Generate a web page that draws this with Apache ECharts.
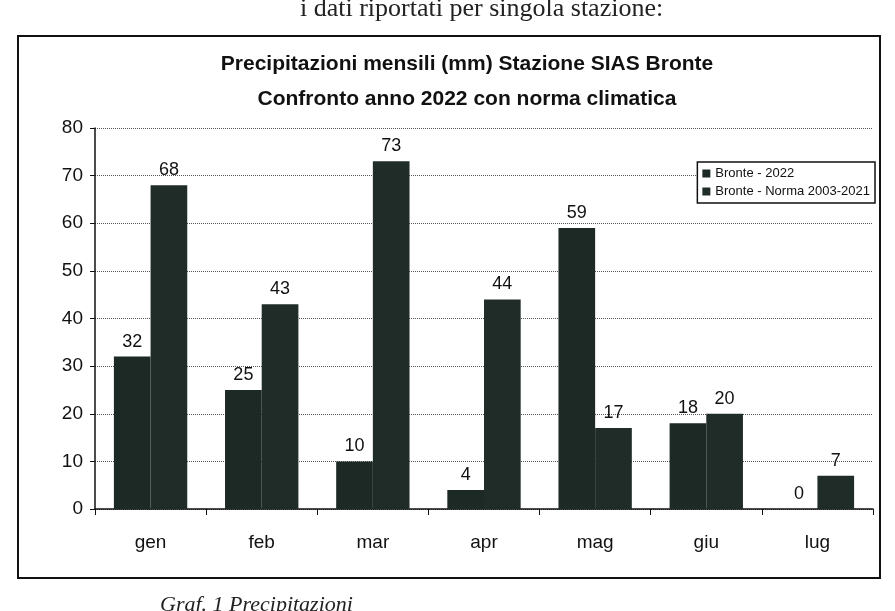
<!DOCTYPE html>
<html>
<head>
<meta charset="utf-8">
<script src="https://cdn.jsdelivr.net/npm/echarts@6/dist/echarts.min.js"></script>
<style>
  html, body { margin: 0; padding: 0; background: #fff; }
  #main { width: 895px; height: 611px; }
</style>
</head>
<body>
<div id="main"></div>
<script>
var months = ["gen", "feb", "mar", "apr", "mag", "giu", "lug"];
var bronte2022 = [32, 25, 10, 4, 59, 18, 0];
var normaValues = [68, 43, 73, 44, 17, 20, 7];
var yTicks = [0, 10, 20, 30, 40, 50, 60, 70, 80];

var myChart = echarts.init(document.getElementById("main"));

myChart.setOption({
  backgroundColor: "#fff",
  animation: false,
  title: {
    text: "Precipitazioni mensili (mm) Stazione SIAS Bronte\nConfronto anno 2022 con norma climatica",
    left: 462,
    top: 42,
    textAlign: "center",
    textStyle: {
      fontFamily: "Liberation Sans",
      fontSize: 21,
      fontWeight: "bold",
      color: "#111",
      lineHeight: 35
    }
  },
  legend: {
    orient: "vertical",
    right: 20,
    top: 162,
    itemWidth: 8,
    itemHeight: 8,
    itemGap: 5,
    padding: [5, 5, 5, 5],
    backgroundColor: "#fff",
    borderColor: "#111",
    borderWidth: 1.5,
    icon: "rect",
    textStyle: { fontFamily: "Liberation Sans", fontSize: 13, color: "#111" },
    data: ["Bronte - 2022", "Bronte - Norma 2003-2021"]
  },
  grid: { left: 95, right: 22, top: 128, bottom: 102 },
  xAxis: {
    type: "category",
    data: months,
    axisLine: { lineStyle: { color: "#111", width: 1.5 } },
    axisTick: { show: true, lineStyle: { color: "#111" }, length: 6 },
    axisLabel: {
      color: "#111",
      fontFamily: "Liberation Sans",
      fontSize: 19,
      margin: 24
    }
  },
  yAxis: {
    type: "value",
    min: 0,
    max: 80,
    interval: 10,
    axisLine: { show: true, lineStyle: { color: "#111", width: 1.5 } },
    axisTick: { show: true, lineStyle: { color: "#111" }, length: 5 },
    axisLabel: {
      color: "#111",
      fontFamily: "Liberation Sans",
      fontSize: 19,
      margin: 12,
      formatter: function (v) { return yTicks.indexOf(v) >= 0 ? String(v) : ""; }
    },
    splitLine: { lineStyle: { color: "#555", type: "dotted", width: 1 } }
  },
  series: [
    {
      name: "Bronte - 2022",
      type: "bar",
      data: bronte2022,
      barGap: "0%",
      barCategoryGap: "34%",
      itemStyle: { color: "#1c2925" },
      label: {
        show: true,
        position: "top",
        distance: 6,
        color: "#111",
        fontFamily: "Liberation Sans",
        fontSize: 18
      }
    },
    {
      name: "Bronte - Norma 2003-2021",
      type: "bar",
      data: normaValues,
      itemStyle: { color: "#1f2c28" },
      label: {
        show: true,
        position: "top",
        distance: 6,
        color: "#111",
        fontFamily: "Liberation Sans",
        fontSize: 18
      }
    }
  ],
  graphic: [
    {
      type: "rect",
      shape: { x: 18, y: 36, width: 862, height: 542 },
      style: { fill: null, stroke: "#111", lineWidth: 2 },
      silent: true
    },
    {
      type: "text",
      left: 300,
      top: -4,
      style: {
        text: "i dati riportati per singola stazione:",
        font: "26px 'Liberation Serif'",
        fill: "#222"
      }
    },
    {
      type: "text",
      left: 160,
      top: 594,
      style: {
        text: "Graf. 1 Precipitazioni",
        font: "italic 22px 'Liberation Serif'",
        fill: "#222"
      }
    }
  ]
});
</script>
</body>
</html>
